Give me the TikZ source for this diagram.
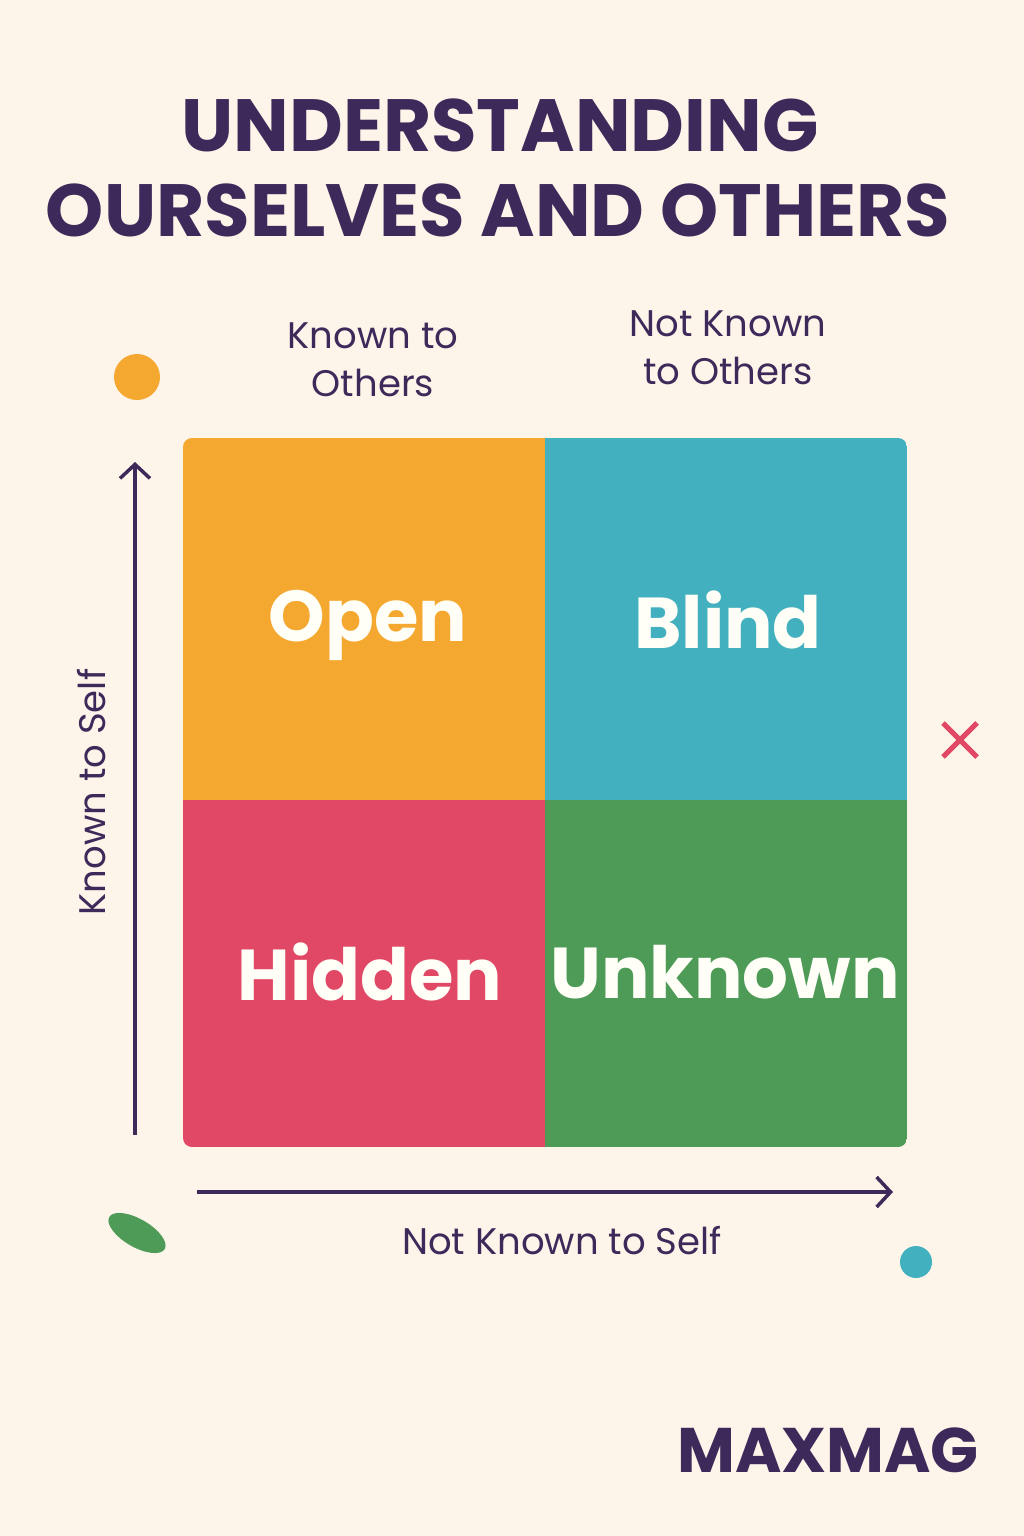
\documentclass[tikz,border=0pt]{standalone}
\usepackage{fontspec}
\setmainfont{Poppins}
\usetikzlibrary{shapes.geometric,arrows.meta}
\definecolor{bg}{HTML}{FDF5E9}
\definecolor{ink}{HTML}{3D2A5A}
\definecolor{qo}{HTML}{F5A830}
\definecolor{qt}{HTML}{42B0BE}
\definecolor{qr}{HTML}{E14866}
\definecolor{qg}{HTML}{4E9A57}
\tikzset{
 title/.style={text=ink,font=\fontsize{74}{80}\selectfont\bfseries},
 quad/.style={text=white!97!yellow,font=\fontsize{72}{76}\selectfont\bfseries},
 lab/.style={text=ink,font=\fontsize{37}{48}\selectfont,align=center},
 axis/.style={ink,line width=3.5pt,-{Straight Barb[length=14pt,width=30pt,line width=3.5pt]}}
}
\begin{document}
\begin{tikzpicture}[x=1pt,y=-1pt]
\fill[bg] (0,0) rectangle (1024,1536);
\node[title] (t1) at (500,125) {UNDERSTANDING};
\node[title] (t2) at (498,210) {OURSELVES AND OTHERS};
\node[lab] (c1) at (373,360) {Known to\\Others};
\node[lab] (c2) at (728,348) {Not Known\\to Others};
\begin{scope}
\clip[rounded corners=9pt] (183,438) rectangle (907,1147);
\fill[qo] (183,438) rectangle (545,800);
\fill[qt] (545,438) rectangle (907,800);
\fill[qr] (183,800) rectangle (545,1147);
\fill[qg] (545,800) rectangle (907,1147);
\end{scope}
\node[quad] (open) at (368,625) {Open};
\node[quad] (blind) at (728,620) {Blind};
\node[quad] (hidden) at (370,972) {Hidden};
\node[quad] (unk) at (725,972) {Unknown};
\coordinate (v0) at (135,1135); \coordinate (v1) at (135,462);
\draw[axis] (v0) -- (v1);
\coordinate (h0) at (197,1192); \coordinate (h1) at (893,1192);
\draw[axis] (h0) -- (h1);
\node[lab,rotate=90] (ks) at (92,792) {Known to Self};
\node[lab] (nks) at (562,1241) {Not Known to Self};
\fill[qo] (137,377) circle (23);
\fill[qt] (916,1262) circle (16);
\node[ellipse,fill=qg,minimum width=64pt,minimum height=28pt,inner sep=0,rotate=-30] (gl) at (137,1233) {};
\draw[qr,line width=5pt] (943,723) -- (977,757) (943,757) -- (977,723);
\node[text=ink,font=\fontsize{63}{68}\selectfont\bfseries] (mm) at (828,1450) {MAXMAG};
\end{tikzpicture}
\end{document}
